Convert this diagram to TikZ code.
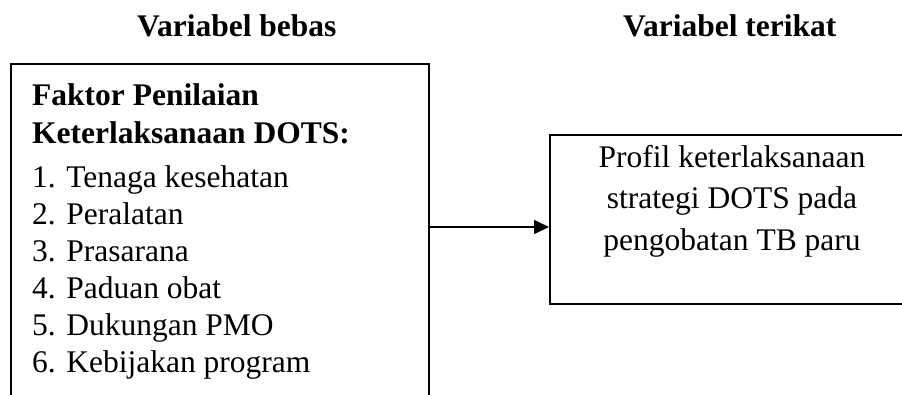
\documentclass[tikz,border=0pt]{standalone}
\usepackage{fontspec}
\setmainfont{Liberation Serif}
\usetikzlibrary{arrows.meta}
\begin{document}
\begin{tikzpicture}[x=1pt,y=1pt,
  txt/.style={inner sep=0pt,anchor=base west,font=\fontsize{31.5pt}{37pt}\selectfont},
  btxt/.style={txt,font=\fontsize{31.5pt}{37pt}\selectfont\bfseries},
  boxframe/.style={draw,line width=1.5pt,rectangle,inner sep=0pt,anchor=north west},
  arr/.style={line width=1.6pt,-{Triangle[length=15pt,width=14pt]}}]
\useasboundingbox (0,0) rectangle (902,-394);
\clip (0,0) rectangle (902,-394);
\fill[white] (0,0) rectangle (902,-394);
% headers
\node[btxt] (h1) at (137,-36) {Variabel bebas};
\node[btxt] (h2) at (623,-36) {Variabel terikat};
% left box (open at the bottom, cut by the page)
\node[boxframe,minimum width=418pt,minimum height=380pt] (lbox) at (10,-63) {};
\node[btxt] (l1) at (32,-105) {Faktor Penilaian};
\node[btxt] (l2) at (32,-143) {Keterlaksanaan DOTS:};
\node[txt] (i1) at (32,-187) {1. Tenaga kesehatan};
\node[txt] (i2) at (32,-224) {2. Peralatan};
\node[txt] (i3) at (32,-261) {3. Prasarana};
\node[txt] (i4) at (32,-298) {4. Paduan obat};
\node[txt] (i5) at (32,-335) {5. Dukungan PMO};
\node[txt] (i6) at (32,-372) {6. Kebijakan program};
% right box
\node[boxframe,minimum width=366pt,minimum height=169pt] (rbox) at (549,-134) {};
\node[txt,anchor=base] (r1) at (732,-167) {Profil keterlaksanaan};
\node[txt,anchor=base] (r2) at (732,-208) {strategi DOTS pada};
\node[txt,anchor=base] (r3) at (732,-250) {pengobatan TB paru};
% connector
\coordinate (ay) at (0,-227);
\draw[arr] (lbox.east |- ay) -- (rbox.west |- ay);
\end{tikzpicture}
\end{document}
